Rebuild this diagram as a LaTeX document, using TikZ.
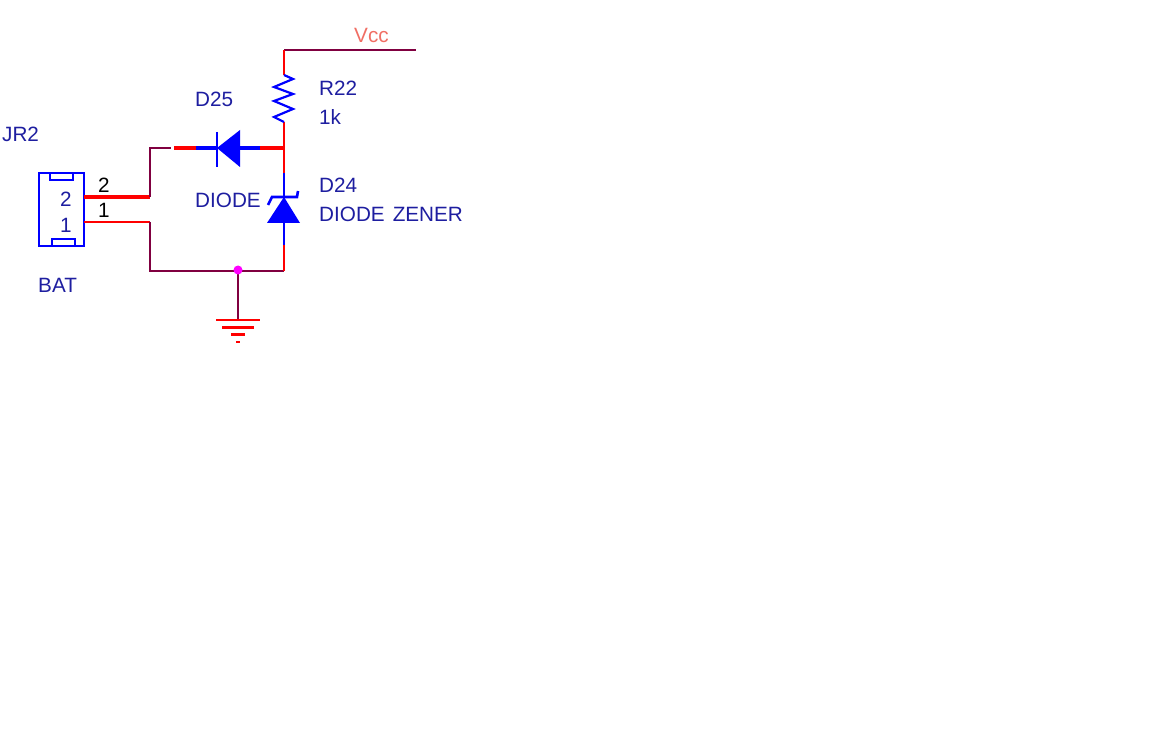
\documentclass[tikz,border=0pt]{standalone}
\usepackage{fontspec}
\setmainfont{Liberation Sans}
\definecolor{wirered}{RGB}{255,0,0}
\definecolor{wiremaroon}{RGB}{128,0,64}
\definecolor{partblue}{RGB}{0,0,255}
\definecolor{labelnavy}{RGB}{30,30,160}
\definecolor{vcclabel}{RGB}{240,110,100}
\definecolor{dotpink}{RGB}{255,0,255}
\tikzset{
	wire/.style={draw=wiremaroon, line width=2.2pt},
	redwire/.style={draw=wirered, line width=2.4pt},
	part/.style={draw=partblue, line width=2.6pt},
	lbl/.style={anchor=base west, inner sep=0pt, text=labelnavy, font=\fontsize{20.7}{24}\selectfont},
}
\begin{document}
\begin{tikzpicture}[x=1pt, y=-1pt]
	\useasboundingbox (0,0) rectangle (1165,738);
	% Points
	\coordinate (Pin2) at (84,197);
	\coordinate (Pin1) at (84,222);
	\coordinate (Turn2) at (150,197);
	\coordinate (Turn1) at (150,222);
	\coordinate (TopL) at (150,148);
	\coordinate (GapL) at (171,148);
	\coordinate (GapR) at (174,148);
	\coordinate (BlueL) at (196,148);
	\coordinate (CathL) at (217,148);
	\coordinate (AnodeL) at (239,148);
	\coordinate (BlueR) at (260,148);
	\coordinate (Node) at (284,148);
	\coordinate (VccL) at (284,50);
	\coordinate (VccR) at (416,50);
	\coordinate (ResT) at (284,75);
	\coordinate (ResB) at (284,122);
	\coordinate (ZenT) at (284,173);
	\coordinate (ZenK) at (284,197);
	\coordinate (ZenA) at (284,222);
	\coordinate (ZenB) at (284,245);
	\coordinate (BotR) at (284,271);
	\coordinate (BotL) at (150,271);
	\coordinate (Dot) at (238,270);
	\coordinate (Gnd) at (238,320);

	% Connector
	\draw[part] (39,173) rectangle (84,246);
	\draw[part] (50,173) -- (50,180) -- (73,180) -- (73,173);
	\draw[part] (52,246) -- (52,239) -- (75,239) -- (75,246);

	% Wires
	\draw[draw=wirered, line width=3.2pt] (Pin2) -- (Turn2);
	\draw[redwire] (Pin1) -- (Turn1);
	\draw[wire] (Turn2) -- (TopL) -- (GapL);
	\draw[wire] (Turn1) -- (BotL) -- (BotR);
	\draw[wire] (VccL) -- (VccR);
	\draw[wire] (Dot) -- (Gnd);
	\draw[draw=wirered, line width=3.2pt] (GapR) -- (BlueL);
	\draw[draw=wirered, line width=3.2pt] (BlueR) -- (Node);
	\draw[redwire] (VccL) -- (ResT);
	\draw[redwire] (ResB) -- (Node) -- (ZenT);
	\draw[redwire] (ZenB) -- (BotR);

	% D25
	\draw[draw=partblue, line width=3.2pt] (BlueL) -- (CathL);
	\draw[draw=partblue, line width=3.2pt] (AnodeL) -- (BlueR);
	\draw[part] (217,132) -- (217,167);
	\fill[partblue] (CathL) -- (240,130) -- (240,167) -- cycle;

	% R22
	\draw[part, line width=2.2pt] (ResT) -- (293,79) -- (274,87) -- (293,94) -- (274,101) -- (293,109) -- (274,117) -- (ResB);

	% D24
	\draw[part] (ZenT) -- (ZenK);
	\draw[part] (ZenA) -- (ZenB);
	\draw[part] (268,205) -- (272,197) -- (297,197) -- (298,191);
	\fill[partblue] (ZenK) -- (300,223) -- (267,223) -- cycle;

	% Ground
	\draw[redwire, line width=2pt] (216,320) -- (260,320);
	\draw[redwire, line width=3pt] (222,327) -- (254,327);
	\draw[redwire, line width=3pt] (231,334) -- (245,334);
	\draw[redwire, line width=2pt] (236,342) -- (240,342);

	% Junction
	\fill[dotpink] (Dot) circle (4.5pt);

	% Labels
	\node[lbl] (jr) at (2,142) {JR2};
	\node[lbl] (bat) at (38,292) {BAT};
	\node[lbl] (pinA) at (60,207) {2};
	\node[lbl] (pinB) at (60,233) {1};
	\node[lbl, text=black] (numA) at (98,193) {2};
	\node[lbl, text=black] (numB) at (98,218) {1};
	\node[lbl] (dname) at (195,107) {D25};
	\node[lbl] (dval) at (195,208) {DIODE};
	\node[lbl] (rname) at (319,96) {R22};
	\node[lbl] (rval) at (319,125) {1k};
	\node[lbl] (zname) at (319,193) {D24};
	\node[lbl] (zval) at (319,222) {DIODE\hspace{8pt}ZENER};
	\node[lbl, text=vcclabel] (vcc) at (354,43) {Vcc};
\end{tikzpicture}
\end{document}
